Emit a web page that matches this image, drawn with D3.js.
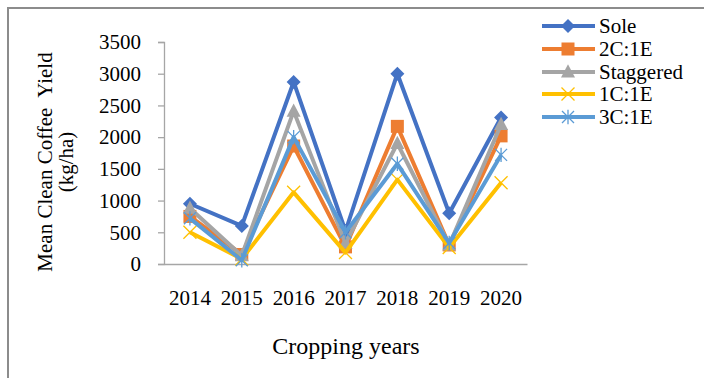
<!DOCTYPE html>
<html>
<head>
<meta charset="utf-8">
<script src="https://cdn.jsdelivr.net/npm/d3@7"></script>
<style>
  html, body { margin: 0; padding: 0; background: #fff; }
  svg { display: block; }
</style>
</head>
<body>
<svg id="chart" width="704" height="378"></svg>
<script>
// Cropping years on the x axis
const years = ["2014", "2015", "2016", "2017", "2018", "2019", "2020"];
// Mean clean coffee yield (kg/ha) per system
const sole      = [950, 600, 2870, 520, 3000, 800, 2310];
const c2e1      = [750, 150, 1860, 270, 2170, 300, 2020];
const staggered = [880, 130, 2410, 330, 1900, 300, 2200];
const c1e1      = [500,  80, 1130, 180, 1330, 260, 1280];
const c3e1      = [720,  60, 2000, 500, 1580, 330, 1720];
const seriesNames = ["Sole", "2C:1E", "Staggered", "1C:1E", "3C:1E"];
const yTicks = [0, 500, 1000, 1500, 2000, 2500, 3000, 3500];

const seriesValues = [sole, c2e1, staggered, c1e1, c3e1];
const colors = ["#4472C4", "#ED7D31", "#A5A5A5", "#FFC000", "#5B9BD5"];
const shapes = ["diamond", "square", "triangle", "x", "star"];
const FONT = "'Liberation Serif', 'Times New Roman', serif";

const svg = d3.select("#chart");

// outer frame
svg.append("path")
  .attr("d", "M8,378 L8,8 L704,8")
  .attr("fill", "none").attr("stroke", "#8c8c8c").attr("stroke-width", 2);

const plot = { left: 164, right: 527, top: 42, bottom: 264 };

const x = d3.scaleBand().domain(years).range([plot.left, plot.right]);
const y = d3.scaleLinear().domain([0, 3500]).range([plot.bottom, plot.top]);

// y axis
const yAxis = svg.append("g")
  .attr("transform", `translate(${plot.left},0)`)
  .call(d3.axisLeft(y).tickValues(yTicks).tickFormat(d3.format("d")).tickSize(6).tickPadding(17));
yAxis.select(".domain").attr("stroke", "#a6a6a6").attr("stroke-width", 1.3);
yAxis.selectAll(".tick line").attr("stroke", "#a6a6a6").attr("stroke-width", 1.3);
yAxis.selectAll(".tick text")
  .style("font-family", FONT).style("font-size", "21px").attr("fill", "#000");

// x axis
const xAxis = svg.append("g")
  .attr("transform", `translate(0,${plot.bottom})`)
  .call(d3.axisBottom(x).tickSize(0).tickPadding(26).tickSizeOuter(0));
xAxis.select(".domain").attr("stroke", "#a6a6a6").attr("stroke-width", 1.3);
xAxis.selectAll(".tick text")
  .style("font-family", FONT).style("font-size", "21px").attr("fill", "#000");

// axis titles
svg.append("text")
  .attr("x", 346).attr("y", 354)
  .attr("text-anchor", "middle")
  .style("font-family", FONT).style("font-size", "24px")
  .text("Cropping years");

const yt = svg.append("text")
  .attr("transform", "translate(52,162) rotate(-90)")
  .attr("text-anchor", "middle")
  .style("font-family", FONT).style("font-size", "21px")
  .style("white-space", "pre");
yt.append("tspan").attr("x", 0).attr("y", 0).text("Mean Clean Coffee  Yield");
yt.append("tspan").attr("x", 0).attr("y", 21).text("(kg/ha)");

// marker drawing
function drawMarker(g, shape, color, cx, cy, s) {
  if (shape === "diamond") {
    g.append("path").attr("d", `M${cx},${cy - s}L${cx + s},${cy}L${cx},${cy + s}L${cx - s},${cy}Z`)
      .attr("fill", color);
  } else if (shape === "square") {
    g.append("rect").attr("x", cx - s).attr("y", cy - s).attr("width", 2 * s).attr("height", 2 * s)
      .attr("fill", color);
  } else if (shape === "triangle") {
    g.append("path").attr("d", `M${cx},${cy - s * 1.1}L${cx + s},${cy + s * 0.8}L${cx - s},${cy + s * 0.8}Z`)
      .attr("fill", color);
  } else if (shape === "x") {
    g.append("path").attr("d", `M${cx - s},${cy - s}L${cx + s},${cy + s}M${cx - s},${cy + s}L${cx + s},${cy - s}`)
      .attr("stroke", color).attr("stroke-width", 1.3).attr("fill", "none");
  } else if (shape === "star") {
    g.append("path").attr("d",
      `M${cx - s},${cy - s}L${cx + s},${cy + s}M${cx - s},${cy + s}L${cx + s},${cy - s}M${cx},${cy - s * 1.2}L${cx},${cy + s * 1.2}`)
      .attr("stroke", color).attr("stroke-width", 1.3).attr("fill", "none");
  }
}
const markerSize = { diamond: 7, square: 6.5, triangle: 7, x: 6.5, star: 6 };

const line = d3.line()
  .x((d, i) => x(years[i]) + x.bandwidth() / 2)
  .y(d => y(d));

seriesValues.forEach((vals, k) => {
  const g = svg.append("g");
  g.append("path").datum(vals)
    .attr("d", line)
    .attr("fill", "none")
    .attr("stroke", colors[k])
    .attr("stroke-width", 4)
    .attr("stroke-linejoin", "round");
  vals.forEach((v, i) => {
    drawMarker(g, shapes[k], colors[k], x(years[i]) + x.bandwidth() / 2, y(v), markerSize[shapes[k]]);
  });
});

// legend
const legendY = [26, 49, 72, 94, 117];
seriesNames.forEach((name, k) => {
  const g = svg.append("g");
  const ly = legendY[k];
  g.append("line").attr("x1", 542).attr("x2", 595).attr("y1", ly).attr("y2", ly)
    .attr("stroke", colors[k]).attr("stroke-width", 4);
  drawMarker(g, shapes[k], colors[k], 568, ly, markerSize[shapes[k]]);
  g.append("text").attr("x", 599).attr("y", ly + 7)
    .style("font-family", FONT).style("font-size", "21px")
    .text(name);
});
</script>
</body>
</html>
